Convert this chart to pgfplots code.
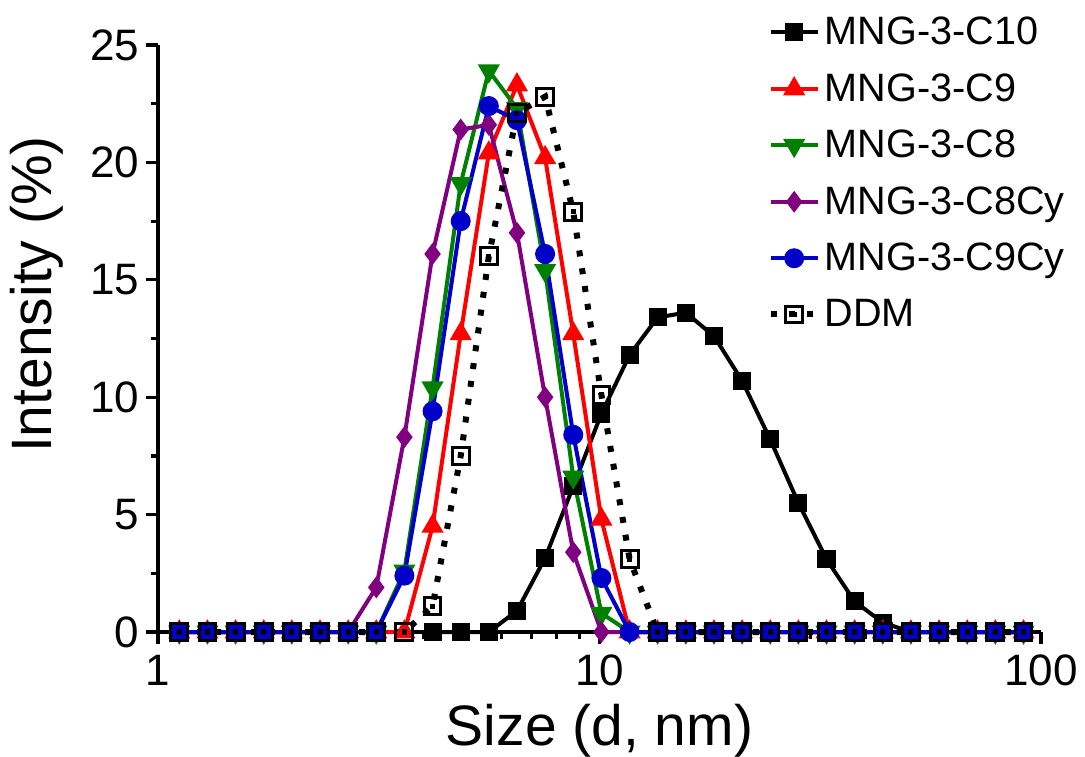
\documentclass[border=0pt]{standalone}
\usepackage{fontspec}
\setmainfont{Liberation Sans}
\usepackage{pgfplots}
\pgfplotsset{compat=1.18}

\definecolor{cRed}{RGB}{255,0,0}
\definecolor{cGreen}{RGB}{0,128,0}
\definecolor{cPurple}{RGB}{128,0,128}
\definecolor{cBlue}{RGB}{0,0,200}

% open square with a small dot in the middle (DDM)
\pgfdeclareplotmark{sqdot}{%
  \pgfpathrectangle{\pgfpoint{-\pgfplotmarksize}{-\pgfplotmarksize}}{\pgfpoint{2\pgfplotmarksize}{2\pgfplotmarksize}}%
  \pgfusepathqstroke
  \pgfpathrectangle{\pgfpoint{-0.3\pgfplotmarksize}{-0.3\pgfplotmarksize}}{\pgfpoint{0.6\pgfplotmarksize}{0.6\pgfplotmarksize}}%
  \pgfusepathqfill
}

\begin{document}
\begin{tikzpicture}
\begin{axis}[
  name=ax,
  scale only axis,
  width=441.5pt, height=293.5pt,
  xmode=log, xmin=1, xmax=100, ymin=0, ymax=25,
  axis x line=bottom, axis y line=left,
  axis line style={line width=2pt,-},
  clip=false,
  xtick={1,10,100}, xticklabels={1,10,100},
  ytick={0,5,10,15,20,25}, yticklabels={0,5,10,15,20,25},
  minor ytick={2.5,7.5,12.5,17.5,22.5},
  tick align=outside,
  major tick length=6pt, minor tick length=3.5pt,
  tick style={black,line width=1.6pt},
  tick label style={font=\fontsize{22}{22}\selectfont},
  xticklabel style={yshift=-2pt},
  xlabel={Size (d, nm)},
  ylabel={Intensity (\%)},
  label style={font=\fontsize{28.5}{28.5}\selectfont},
  xlabel style={at={(rel axis cs:0.5,-0.1925)}, anchor=base},
  ylabel style={at={(rel axis cs:-0.0990,0.575)}, anchor=south},
  legend style={draw=none, fill=none, at={(0.69,1.055)}, anchor=north west,
    font=\fontsize{19.8}{19.8}\selectfont, row sep=8.9pt, inner sep=0pt},
  legend cell align=left,
  legend image code/.code={\draw[mark repeat=2,mark phase=2] plot coordinates {(0pt,0pt) (11.75pt,0pt) (23.5pt,0pt)};},
  every axis plot/.append style={line width=2pt},
]
% MNG-3-C10
\addplot[black, mark=square*, mark size=4.2pt, mark options={solid,line width=0.6pt}] coordinates {
  (4.187,0) (4.849,0) (5.615,0) (6.503,0.9) (7.531,3.15) (8.721,6.2)
  (10.1,9.3) (11.7,11.8) (13.54,13.4) (15.69,13.6) (18.17,12.6) (21.04,10.7)
  (24.36,8.2) (28.21,5.5) (32.67,3.1) (37.84,1.3) (43.82,0.4) (50.75,0)
  (58.77,0) (68.06,0) (78.82,0) (91.28,0)
};
\addlegendentry{MNG-3-C10}
% MNG-3-C9
\addplot[cRed, mark=triangle*, mark size=5.8pt, mark options={solid,line width=0.6pt}] coordinates {
  (1.117,0) (1.294,0) (1.499,0) (1.736,0) (2.01,0) (2.328,0) (2.696,0)
  (3.122,0) (3.615,0) (4.187,4.5) (4.849,12.7) (5.615,20.4) (6.503,23.3)
  (7.531,20.2) (8.721,12.7) (10.1,4.8) (11.7,0) (13.54,0) (15.69,0)
  (18.17,0) (21.04,0) (24.36,0) (28.21,0) (32.67,0) (37.84,0) (43.82,0)
  (50.75,0) (58.77,0) (68.06,0) (78.82,0) (91.28,0)
};
\addlegendentry{MNG-3-C9}
% MNG-3-C8
\addplot[cGreen, mark=triangle*, mark size=5.8pt, mark options={solid,rotate=180,line width=0.6pt}] coordinates {
  (1.117,0) (1.294,0) (1.499,0) (1.736,0) (2.01,0) (2.328,0) (2.696,0)
  (3.122,0) (3.615,2.6) (4.187,10.4) (4.849,19.1) (5.615,23.9) (6.503,22.3)
  (7.531,15.4) (8.721,6.6) (10.1,0.8) (11.7,0) (13.54,0) (15.69,0)
  (18.17,0) (21.04,0) (24.36,0) (28.21,0) (32.67,0) (37.84,0) (43.82,0)
  (50.75,0) (58.77,0) (68.06,0) (78.82,0) (91.28,0)
};
\addlegendentry{MNG-3-C8}
% MNG-3-C8Cy
\addplot[cPurple, mark=diamond*, mark size=5pt, mark options={solid,line width=0.6pt}] coordinates {
  (1.117,0) (1.294,0) (1.499,0) (1.736,0) (2.01,0) (2.328,0) (2.696,0)
  (3.122,1.9) (3.615,8.3) (4.187,16.1) (4.849,21.4) (5.615,21.6) (6.503,17.0)
  (7.531,10.0) (8.721,3.4) (10.1,0) (11.7,0) (13.54,0) (15.69,0)
  (18.17,0) (21.04,0) (24.36,0) (28.21,0) (32.67,0) (37.84,0) (43.82,0)
  (50.75,0) (58.77,0) (68.06,0) (78.82,0) (91.28,0)
};
\addlegendentry{MNG-3-C8Cy}
% MNG-3-C9Cy
\addplot[cBlue, mark=*, mark size=4.7pt, mark options={solid,line width=0.6pt}] coordinates {
  (1.117,0) (1.294,0) (1.499,0) (1.736,0) (2.01,0) (2.328,0) (2.696,0)
  (3.122,0) (3.615,2.4) (4.187,9.4) (4.849,17.5) (5.615,22.4) (6.503,21.8)
  (7.531,16.1) (8.721,8.4) (10.1,2.3) (11.7,0) (13.54,0) (15.69,0)
  (18.17,0) (21.04,0) (24.36,0) (28.21,0) (32.67,0) (37.84,0) (43.82,0)
  (50.75,0) (58.77,0) (68.06,0) (78.82,0) (91.28,0)
};
\addlegendentry{MNG-3-C9Cy}
% DDM
\addplot[black, line width=3pt, dash pattern=on 3pt off 6pt, mark=sqdot, mark size=4.2pt, mark options={solid,line width=1.5pt}] coordinates {
  (1.117,0) (1.294,0) (1.499,0) (1.736,0) (2.01,0) (2.328,0) (2.696,0)
  (3.122,0) (3.615,0) (4.187,1.1) (4.849,7.5) (5.615,16.0) (6.503,22.1)
  (7.531,22.8) (8.721,17.9) (10.1,10.1) (11.7,3.1) (13.54,0) (15.69,0)
  (18.17,0) (21.04,0) (24.36,0) (28.21,0) (32.67,0) (37.84,0) (43.82,0)
  (50.75,0) (58.77,0) (68.06,0) (78.82,0) (91.28,0)
};
\addlegendentry{DDM}
\end{axis}
\pgfresetboundingbox
\path[use as bounding box] (ax.south west) ++(-79pt,-62pt) rectangle ++(542.5pt,378pt);
\end{tikzpicture}
\end{document}
